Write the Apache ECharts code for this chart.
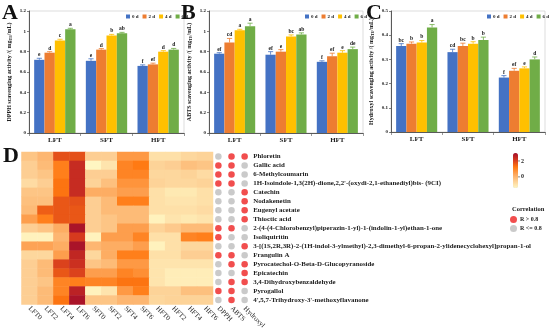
<!DOCTYPE html>
<html><head><meta charset="utf-8">
<script src="https://cdn.jsdelivr.net/npm/echarts@6/dist/echarts.min.js"></script>
<style>html,body{margin:0;padding:0;background:#fff}#c{width:550px;height:336px}</style>
</head><body><div id="c"></div>
<script>
const categories = ['LFT', 'SFT', 'HFT'];
const days = ['0 d', '2 d', '4 d', '6 d'];
const dayColors = ['#4472C4', '#ED7D31', '#FFC000', '#70AD47'];

// values indexed [day][category]
const dpphVals = [[0.72, 0.71, 0.66], [0.79, 0.82, 0.675], [0.91, 0.96, 0.80], [1.02, 0.98, 0.82]];
const dpphErr = [[0.015, 0.02, 0.01], [0.01, 0.01, 0.012], [0.012, 0.01, 0.01], [0.01, 0.01, 0.012]];
const dpphLetters = [['e', 'e', 'f'], ['d', 'd', 'ef'], ['c', 'b', 'd'], ['a', 'ab', 'd']];

const abtsVals = [[0.78, 0.77, 0.70], [0.89, 0.80, 0.755], [1.01, 0.95, 0.79], [1.05, 0.97, 0.825]];
const abtsErr = [[0.01, 0.03, 0.01], [0.04, 0.02, 0.03], [0.01, 0.015, 0.02], [0.03, 0.015, 0.02]];
const abtsLetters = [['ef', 'ef', 'f'], ['cd', 'e', 'ef'], ['a', 'bc', 'e'], ['a', 'ab', 'de']];

const hydVals = [[0.355, 0.33, 0.225], [0.365, 0.355, 0.253], [0.37, 0.365, 0.263], [0.432, 0.38, 0.30]];
const hydErr = [[0.01, 0.012, 0.008], [0.007, 0.012, 0.01], [0.008, 0.008, 0.006], [0.012, 0.012, 0.01]];
const hydLetters = [['bc', 'cd', 'f'], ['b', 'bc', 'ef'], ['b', 'b', 'e'], ['a', 'b', 'd']];

const heatCols = ['LFT0', 'LFT2', 'LFT4', 'LFT6', 'SFT0', 'SFT2', 'SFT4', 'SFT6', 'HFT0', 'HFT2', 'HFT4', 'HFT6'];
const compounds = ['Phloretin', 'Gallic acid', '6-Methylcoumarin',
  "1H-Isoindole-1,3(2H)-dione,2,2'-(oxydi-2,1-ethanediyl)bis- (9CI)",
  'Catechin', 'Nodakenetin', 'Eugenyl acetate', 'Thioctic acid',
  '2-(4-(4-Chlorobenzyl)piperazin-1-yl)-1-(indolin-1-yl)ethan-1-one',
  'Isoliquiritin',
  '3-[(1S,2R,3R)-2-(1H-indol-3-ylmethyl)-2,3-dimethyl-6-propan-2-ylidenecyclohexyl]propan-1-ol',
  'Frangulin A', 'Pyrocatechol-O-Beta-D-Glucopyranoside', 'Epicatechin',
  '3,4-Dihydroxybenzaldehyde', 'Pyrogallol', "4',5,7-Trihydroxy-3'-methoxyflavanone"];
const heatValues = [
  [-0.3, 0.0, 1.8, 1.8, -0.5, -0.5, 0.6, 0.6, -0.9, -0.9, -0.7, -0.6],
  [-0.5, -0.1, 1.1, 2.4, -1.4, -1.0, 1.0, 1.2, -0.6, -0.5, -0.2, -0.3],
  [-0.5, -0.3, 1.1, 2.4, -0.5, -0.5, 1.0, 1.0, -0.7, -0.7, -0.6, -0.8],
  [-0.8, -0.5, 1.3, 2.4, -0.6, -0.2, 0.7, 0.7, -0.6, -0.7, -0.7, -0.6],
  [-0.3, -0.3, 1.3, 2.4, 0.2, 0.2, 0.5, 0.5, -0.9, -1.1, -1.1, -0.9],
  [-0.2, -0.2, 1.7, 1.8, -0.5, -0.1, 1.1, 1.1, -0.9, -1.0, -1.0, -0.9],
  [-0.1, 1.6, 1.7, 1.7, -0.5, -0.1, -0.1, -0.1, -0.9, -0.9, -0.9, -0.8],
  [0.5, 1.1, 1.7, 1.7, -0.5, -0.3, -0.1, -0.1, -1.3, -1.0, -1.1, -1.0],
  [-0.5, -0.3, 0.2, 2.9, -0.5, -0.3, 0.5, 0.5, -0.6, -0.4, -0.1, -0.1],
  [-1.3, -1.3, 0.0, 2.1, -1.3, 0.5, 0.5, 1.0, -0.9, -0.9, 1.0, 1.1],
  [0.4, 0.4, 0.2, 2.9, 0.0, 0.2, 0.2, 0.5, -1.3, -0.9, -0.7, -0.7],
  [-0.7, -0.7, 0.5, 2.5, -0.7, 0.2, 1.1, 1.1, -0.9, -0.9, -0.5, -0.5],
  [-0.5, -0.1, 2.0, 2.3, -0.3, -0.1, 0.6, 0.6, -1.0, -1.0, -1.0, -1.0],
  [-0.5, -0.1, 1.7, 2.0, 0.5, 0.5, 1.0, 0.8, -1.0, -1.2, -1.2, -1.2],
  [-0.5, -0.3, 1.0, 1.1, 1.0, 1.0, 1.3, 1.3, -1.0, -1.2, -1.2, -1.2],
  [-0.5, -0.1, 1.0, 2.6, -1.3, -1.0, 0.6, 1.1, -0.6, -0.6, -0.2, -0.2],
  [-0.5, -0.1, 1.3, 2.9, -0.3, -0.3, 0.0, 0.0, -0.7, -0.6, -0.6, -0.6]
];
const corrCols = ['DPPH', 'ABTS', 'Hydroxyl'];
const dpphSig = [0, 1, 1, 1, 0, 0, 0, 0, 1, 1, 0, 1, 0, 0, 0, 1, 0];
const abtsSig = [1, 1, 1, 1, 0, 0, 0, 0, 1, 0, 0, 1, 1, 0, 1, 1, 1];
const hydSig = [1, 0, 0, 0, 1, 1, 1, 1, 0, 0, 1, 0, 1, 1, 1, 0, 0];
const colorTicks = [2, 0];
const vmMin = -1.4, vmMax = 3;

const SERIF = '"Liberation Serif", "Times New Roman", serif';
const chart = echarts.init(document.getElementById('c'), null, {renderer: 'canvas'});

const grids = [], xAxes = [], yAxes = [], series = [], legends = [];
const panelBoxes = [
  {left: 29, top: 11, width: 155, height: 122},
  {left: 209, top: 11, width: 154, height: 122},
  {left: 391, top: 11, width: 154, height: 121}
];
const panelDefs = [
  {vals: dpphVals, err: dpphErr, letters: dpphLetters, max: 1.2, step: 0.2, name: 'DPPH scavenging activity /( mg'},
  {vals: abtsVals, err: abtsErr, letters: abtsLetters, max: 1.2, step: 0.2, name: 'ABTS scavenging activity /( mg'},
  {vals: hydVals, err: hydErr, letters: hydLetters, max: 0.5, step: 0.1, name: 'Hydroxyl scavenging activity /( mg'}
];

function errRenderer(dayIdx, letters, color) {
  return function (params, api) {
    const cat = api.value(0), v = api.value(1), e = api.value(2);
    const catW = api.size([1, 0])[0];
    const bw = catW * 0.2;
    const p0 = api.coord([cat, v]);
    const cx = p0[0] + (dayIdx - 1.5) * bw;
    const y1 = api.coord([cat, v + e])[1];
    const cap = bw * 0.25;
    return {
      type: 'group', children: [
        {type: 'line', shape: {x1: cx, y1: p0[1], x2: cx, y2: y1}, style: {stroke: color, lineWidth: 0.8}},
        {type: 'line', shape: {x1: cx - cap, y1: y1, x2: cx + cap, y2: y1}, style: {stroke: color, lineWidth: 0.8}},
        {type: 'text', x: cx, y: y1 - 0.5, style: {text: letters[dayIdx][cat], textAlign: 'center', textVerticalAlign: 'bottom', font: 'bold 5.5px ' + SERIF, fill: '#222'}}
      ]
    };
  };
}

panelDefs.forEach((pd, gi) => {
  const box = panelBoxes[gi];
  grids.push(Object.assign({show: true, borderColor: '#c8c8c8', borderWidth: 0.6, backgroundColor: 'transparent'}, box));
  xAxes.push({
    type: 'category', gridIndex: gi, data: categories,
    axisLine: {lineStyle: {color: '#333', width: 0.8}},
    axisTick: {show: true, length: 3, lineStyle: {color: '#555', width: 0.6}},
    axisLabel: {fontFamily: SERIF, fontWeight: 'bold', fontSize: 7, color: '#222', margin: 4}
  });
  yAxes.push({
    type: 'value', gridIndex: gi, min: 0, max: pd.max, interval: pd.step,
    axisLine: {show: true, lineStyle: {color: '#333', width: 0.8}},
    axisTick: {show: true, length: 2, lineStyle: {color: '#333', width: 0.6}},
    splitLine: {show: false},
    axisLabel: {fontFamily: SERIF, fontWeight: 'bold', fontSize: 5, color: '#222', margin: 3},
    name: '{a|' + pd.name + '}{b|TE}{a|/mL)}',
    nameLocation: 'middle', nameGap: 16,
    nameTextStyle: {rich: {
      a: {fontFamily: SERIF, fontWeight: 'bold', fontSize: 6, color: '#222'},
      b: {fontFamily: SERIF, fontWeight: 'bold', fontSize: 4, color: '#222', padding: [3, 0, 0, 0]}
    }}
  });
  days.forEach((d, di) => {
    series.push({
      type: 'bar', name: d, xAxisIndex: gi, yAxisIndex: gi,
      data: pd.vals[di], barWidth: '20%', barGap: '0%',
      itemStyle: {color: dayColors[di]}
    });
  });
  days.forEach((d, di) => {
    series.push({
      type: 'custom', xAxisIndex: gi, yAxisIndex: gi, z: 5,
      renderItem: errRenderer(di, pd.letters, dayColors[di]),
      data: categories.map((c, ci) => [ci, pd.vals[di][ci], pd.err[di][ci]]),
      silent: true
    });
  });
  legends.push({
    data: days, left: box.left + box.width - 58, top: box.top + 3, padding: 0,
    itemWidth: 4, itemHeight: 4, itemGap: 4, icon: 'rect',
    textStyle: {fontFamily: SERIF, fontWeight: 'bold', fontSize: 5, color: '#222', padding: [0, 0, 0, -3]}
  });
});

// heatmap
const hmGrid = grids.length;
grids.push({left: 21.5, top: 152, width: 191.5, height: 152.5});
xAxes.push({
  type: 'category', gridIndex: hmGrid, data: heatCols,
  axisLine: {show: false}, axisTick: {show: false}, splitLine: {show: false},
  axisLabel: {rotate: -45, fontFamily: SERIF, fontSize: 7, color: '#222', margin: 3, interval: 0}
});
yAxes.push({
  type: 'category', gridIndex: hmGrid, data: compounds, inverse: true,
  axisLine: {show: false}, axisTick: {show: false}, axisLabel: {show: false}, splitLine: {show: false}
});
const heatData = [];
heatValues.forEach((row, r) => row.forEach((v, c) => heatData.push([c, r, v])));
const heatSeriesIndex = series.length;
series.push({type: 'heatmap', xAxisIndex: hmGrid, yAxisIndex: hmGrid, data: heatData, itemStyle: {borderWidth: 0}});

// correlation dots
const dotGrid = grids.length;
grids.push({left: 211.8, top: 152, width: 39.4, height: 152.5});
xAxes.push({
  type: 'category', gridIndex: dotGrid, data: corrCols,
  axisLine: {show: false}, axisTick: {show: false}, splitLine: {show: false},
  axisLabel: {rotate: -45, fontFamily: SERIF, fontSize: 7, color: '#222', margin: 3, interval: 0}
});
yAxes.push({
  type: 'category', gridIndex: dotGrid, data: compounds, inverse: true, position: 'right',
  axisLine: {show: false}, axisTick: {show: false}, splitLine: {show: false},
  axisLabel: {show: true, interval: 0, fontFamily: SERIF, fontWeight: 'bold', fontSize: 6.9, color: '#222', margin: 2, align: 'left'}
});
const redDots = [], greyDots = [];
[dpphSig, abtsSig, hydSig].forEach((sig, ci) => sig.forEach((s, r) => (s ? redDots : greyDots).push([ci, r])));
series.push({type: 'scatter', name: 'R > 0.8', xAxisIndex: dotGrid, yAxisIndex: dotGrid, data: redDots, symbolSize: 6.5, itemStyle: {color: '#EE2222'}});
series.push({type: 'scatter', name: 'R <= 0.8', xAxisIndex: dotGrid, yAxisIndex: dotGrid, data: greyDots, symbolSize: 6.5, itemStyle: {color: '#BDBDBD'}});
legends.push({
  data: ['R > 0.8', 'R <= 0.8'], orient: 'vertical', left: 510, top: 216, padding: 0,
  itemWidth: 7, itemHeight: 7, itemGap: 2, icon: 'circle',
  textStyle: {fontFamily: SERIF, fontWeight: 'bold', fontSize: 6, color: '#222', padding: [0, 0, 0, -2]}
});

const vmTop = 153, vmH = 35, vmLeft = 513, vmW = 5;
const graphics = [
  {type: 'text', left: 2, top: 2, style: {text: 'A', font: 'bold 22px ' + SERIF, fill: '#111'}},
  {type: 'text', left: 181, top: 2, style: {text: 'B', font: 'bold 22px ' + SERIF, fill: '#111'}},
  {type: 'text', left: 366, top: 2, style: {text: 'C', font: 'bold 22px ' + SERIF, fill: '#111'}},
  {type: 'text', left: 3, top: 145, style: {text: 'D', font: 'bold 22px ' + SERIF, fill: '#111'}},
  {type: 'text', left: 512, top: 206, style: {text: 'Correlation', font: 'bold 6.5px ' + SERIF, fill: '#222'}}
];
colorTicks.forEach(t => {
  const y = vmTop + (vmMax - t) / (vmMax - vmMin) * vmH;
  graphics.push({type: 'line', shape: {x1: vmLeft + vmW, y1: y, x2: vmLeft + vmW + 2, y2: y}, style: {stroke: '#333', lineWidth: 0.6}});
  graphics.push({type: 'text', x: vmLeft + vmW + 3, y: y, style: {text: String(t), font: 'bold 6px ' + SERIF, fill: '#222', textVerticalAlign: 'middle'}});
});

chart.setOption({
  animation: false,
  grid: grids, xAxis: xAxes, yAxis: yAxes, series: series, legend: legends,
  visualMap: {
    type: 'continuous', min: vmMin, max: vmMax, seriesIndex: heatSeriesIndex,
    left: vmLeft, top: vmTop, itemWidth: vmW, itemHeight: vmH, padding: 0,
    text: ['', ''], calculable: false, showLabel: false,
    inRange: {color: ['#FFF6C2', '#FDCF94', '#FDA558', '#FF7810', '#D5391E', '#A50F2A']}
  },
  graphic: graphics
});
</script></body></html>
